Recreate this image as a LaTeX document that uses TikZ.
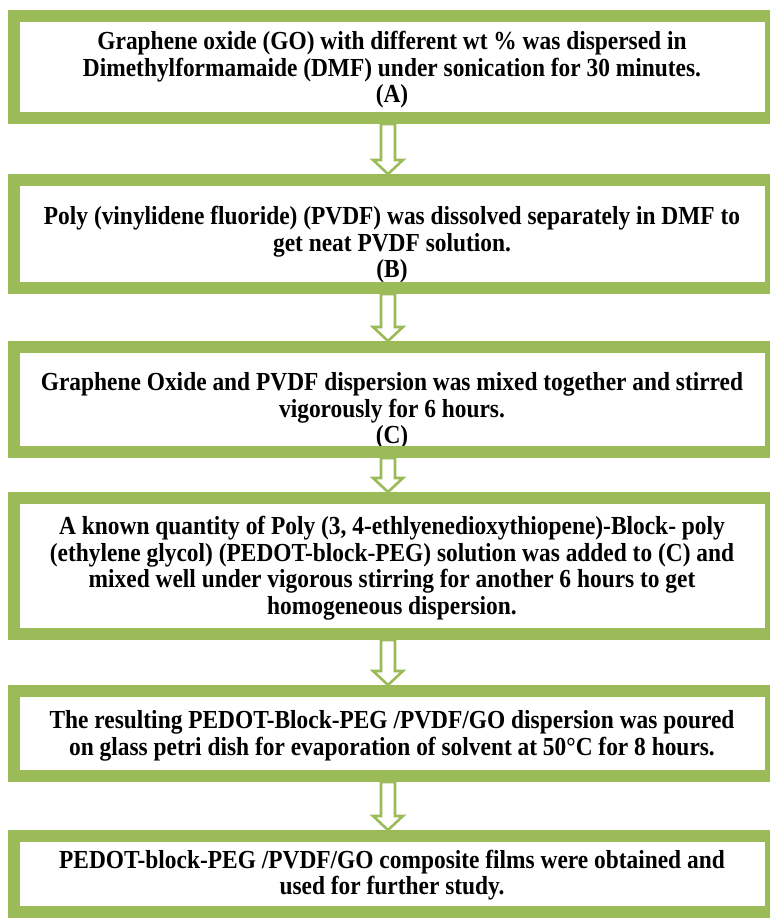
\documentclass[tikz,border=0pt]{standalone}
\usepackage{fontspec}
\setmainfont[FakeStretch=0.9]{Liberation Serif}
\usetikzlibrary{calc}
\definecolor{olive}{HTML}{9BBB59}
\tikzset{
  stepbox/.style={draw=olive, line width=12pt, rectangle, inner sep=0pt,
    minimum width=757.5pt},
  steptext/.style={align=center, font=\fontsize{26}{26.5}\selectfont\bfseries, inner sep=0pt},
  blockarrow/.style={draw=olive, fill=white, line width=2.6pt, line join=miter,
    to path={($(\tikztostart)+(-7,0)$) -- ($(\tikztotarget)+(-7,-14)$)
      -- ($(\tikztotarget)+(-15,-14)$) -- (\tikztotarget)
      -- ($(\tikztotarget)+(15,-14)$) -- ($(\tikztotarget)+(7,-14)$)
      -- ($(\tikztostart)+(7,0)$) -- cycle}}
}
\begin{document}
\begin{tikzpicture}[x=1pt,y=-1pt]
\path[fill=white] (0,0) rectangle (770,920);
\useasboundingbox (0,0) rectangle (770,920);
\clip (0,0) rectangle (770,920);
% texts
\node[steptext] (t1) at (392,70) {Graphene oxide (GO) with different wt \% was dispersed in\\Dimethylformamaide (DMF) under sonication for 30 minutes.\\(A)};
\node[steptext] (t2) at (392,245) {Poly (vinylidene fluoride) (PVDF) was dissolved separately in DMF to\\get neat PVDF solution.\\(B)};
\node[steptext] (t3) at (392,411) {Graphene Oxide and PVDF dispersion was mixed together and stirred\\vigorously for 6 hours.\\(C)};
\node[steptext] (t4) at (392,568) {A known quantity of Poly (3, 4-ethlyenedioxythiopene)-Block- poly\\(ethylene glycol) (PEDOT-block-PEG) solution was added to (C) and\\mixed well under vigorous stirring for another 6 hours to get\\homogeneous dispersion.};
\node[steptext] (t5) at (392,736) {The resulting PEDOT-Block-PEG /PVDF/GO dispersion was poured\\on glass petri dish for evaporation of solvent at 50°C for 8 hours.};
\node[steptext] (t6) at (392,875) {PEDOT-block-PEG /PVDF/GO composite films were obtained and\\used for further study.};
% boxes
\node[stepbox, minimum height=102pt] (b1) at (392.25,67) {};
\node[stepbox, minimum height=108pt] (b2) at (392.25,234) {};
\node[stepbox, minimum height=105pt] (b3) at (392.25,399.5) {};
\node[stepbox, minimum height=136pt] (b4) at (392.25,566) {};
\node[stepbox, minimum height=85pt] (b5) at (392.25,733.5) {};
\node[stepbox, minimum height=76pt] (b6) at (392.25,874) {};
% arrows
\coordinate (ax) at (388,0);
\draw[blockarrow] (b1.south -| ax) to (b2.north -| ax);
\draw[blockarrow] (b2.south -| ax) to (b3.north -| ax);
\draw[blockarrow] (b3.south -| ax) to (b4.north -| ax);
\draw[blockarrow] (b4.south -| ax) to (b5.north -| ax);
\draw[blockarrow] (b5.south -| ax) to (b6.north -| ax);
\end{tikzpicture}
\end{document}
